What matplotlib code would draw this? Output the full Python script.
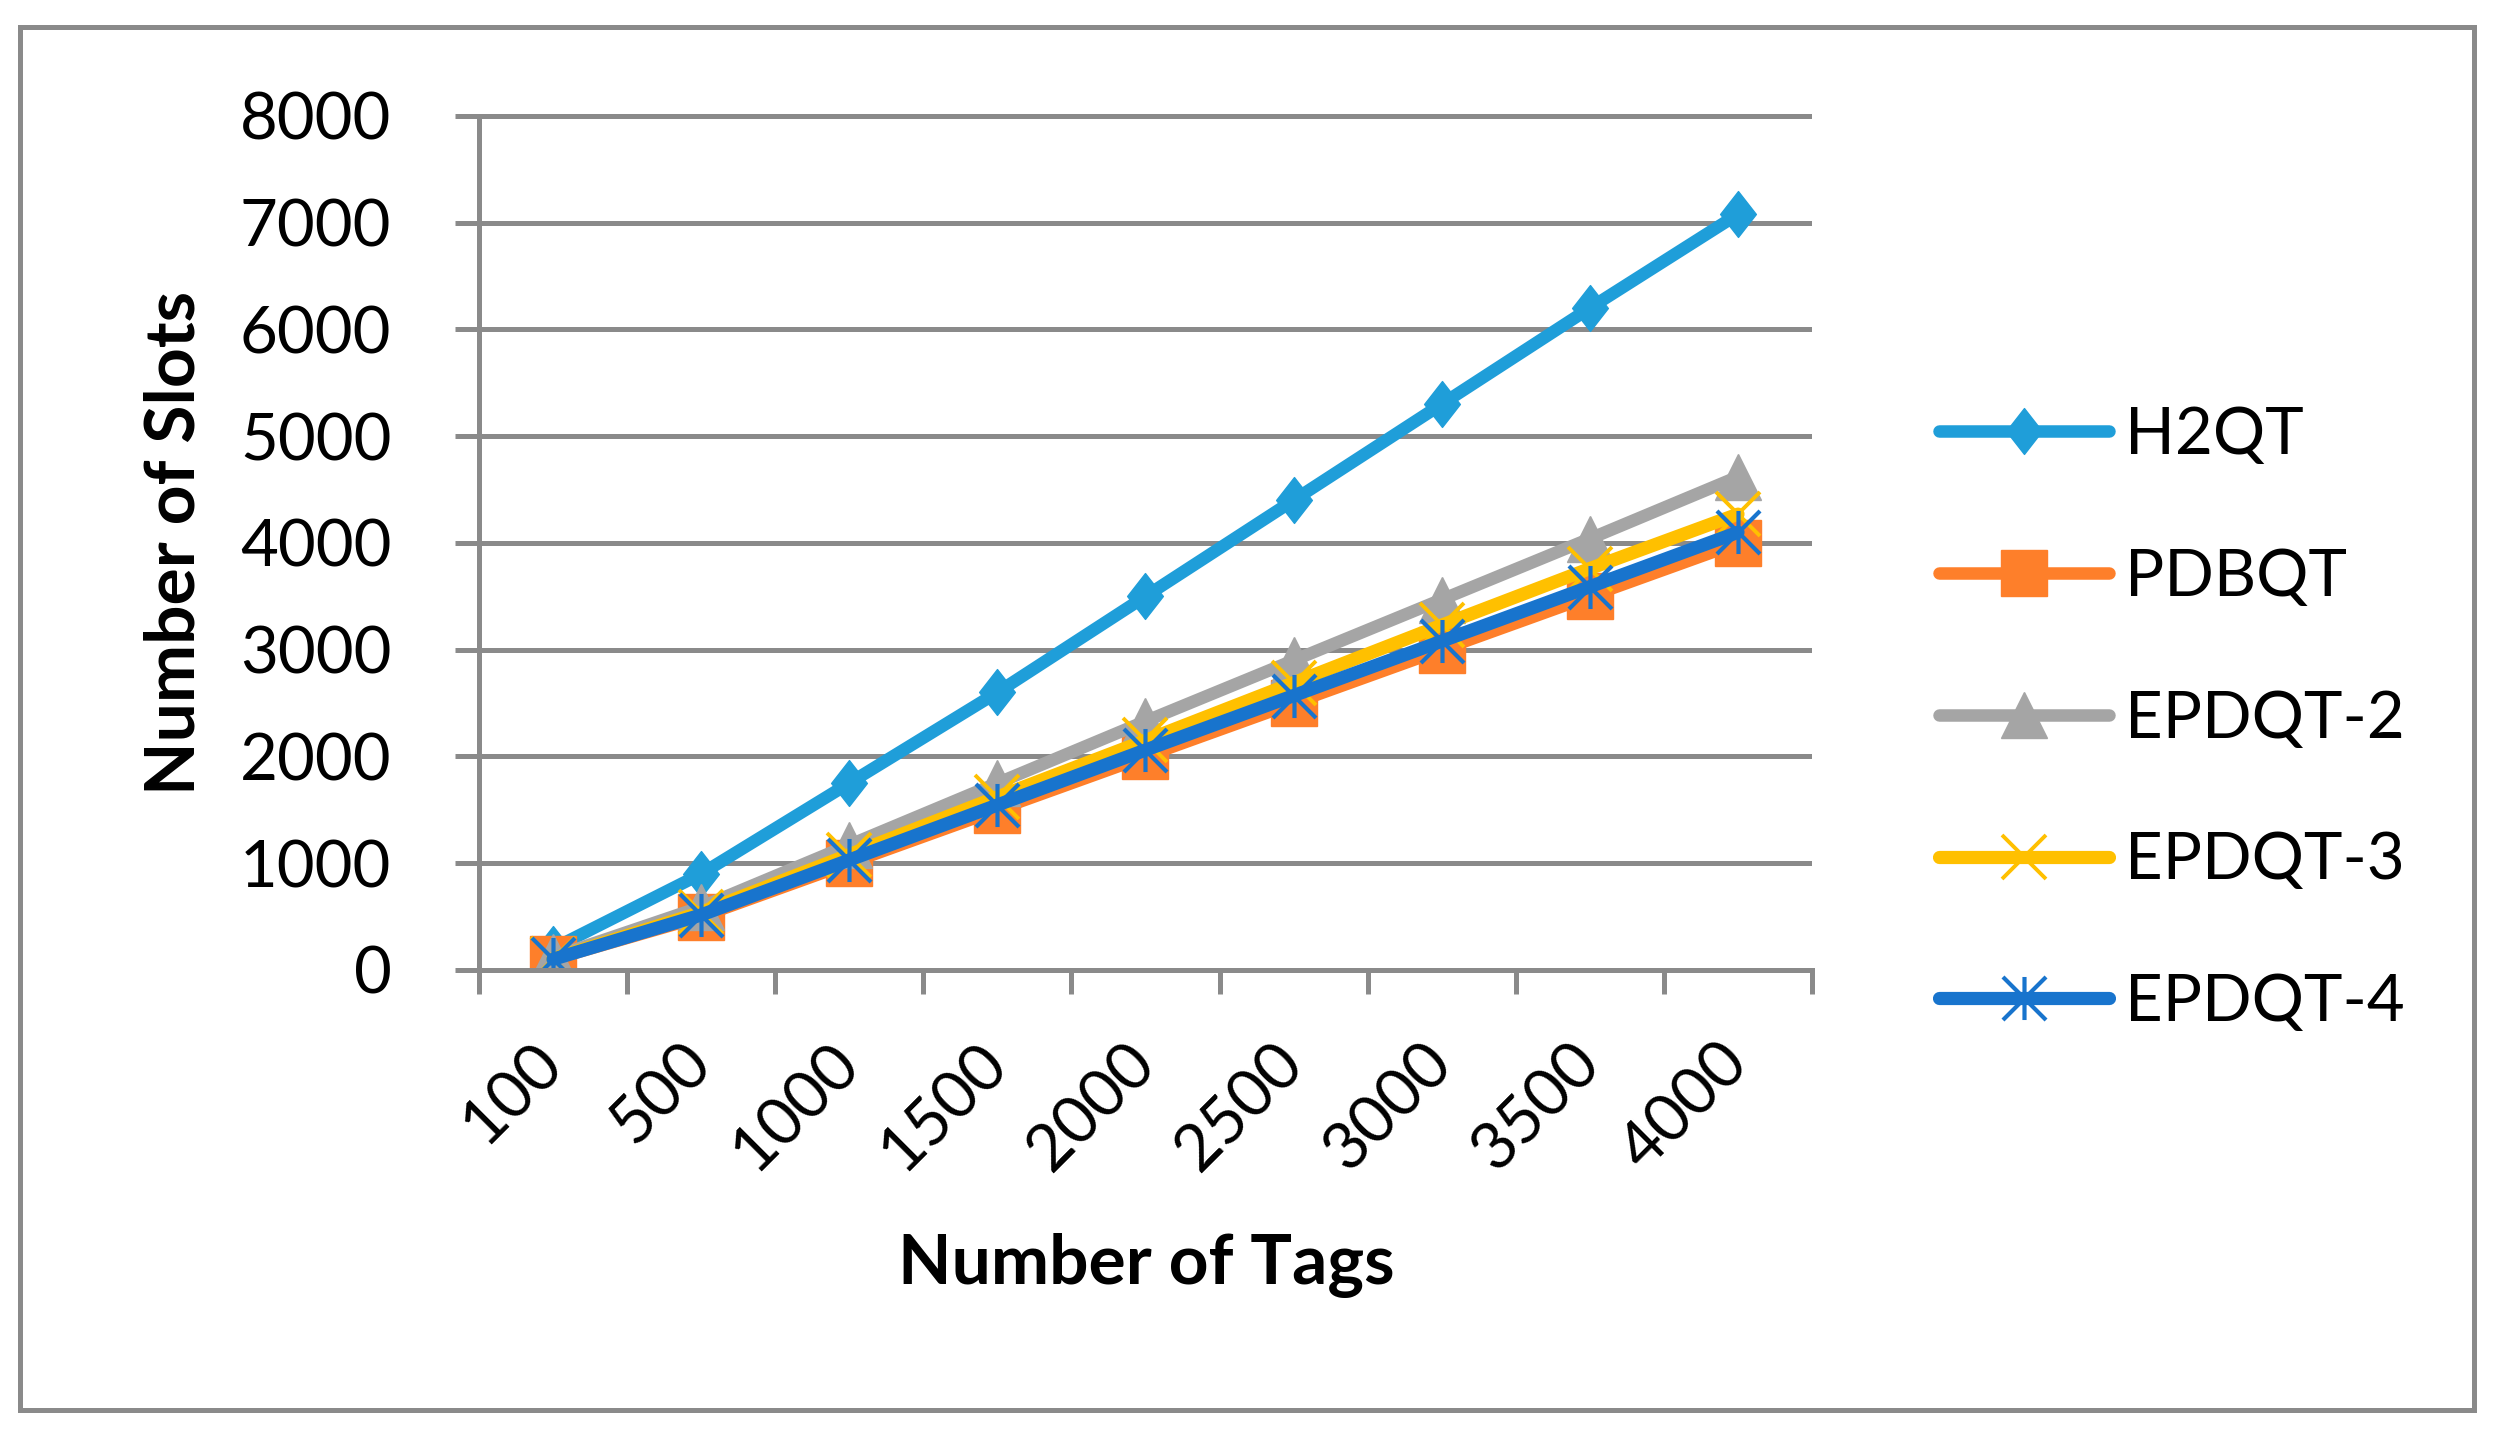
import numpy as np
import matplotlib.pyplot as plt
from matplotlib.path import Path
from matplotlib.patches import Rectangle
from matplotlib.ticker import FixedLocator

plt.rcParams['font.family'] = ['Lato', 'DejaVu Sans']

tags = ['100', '500', '1000', '1500', '2000', '2500', '3000', '3500', '4000']
h2qt = [200, 900, 1750, 2600, 3500, 4400, 5300, 6200, 7080]
pdbqt = [100, 500, 1000, 1500, 2000, 2500, 3000, 3500, 4000]
epdqt2 = [120, 590, 1170, 1750, 2330, 2900, 3470, 4040, 4620]
epdqt3 = [105, 540, 1080, 1620, 2150, 2690, 3230, 3760, 4270]
epdqt4 = [100, 515, 1030, 1545, 2060, 2570, 3080, 3590, 4100]
y_ticks = [0, 1000, 2000, 3000, 4000, 5000, 6000, 7000, 8000]

grey = '#8a8a8a'

# excel style markers
diamond = Path([(0, 1), (0.78, 0), (0, -1), (-0.78, 0), (0, 1)],
               [Path.MOVETO, Path.LINETO, Path.LINETO, Path.LINETO, Path.CLOSEPOLY])
asterisk = Path([(-1, -1), (1, 1), (-1, 1), (1, -1), (0, -1), (0, 1)],
                [Path.MOVETO, Path.LINETO, Path.MOVETO, Path.LINETO, Path.MOVETO, Path.LINETO])

fig = plt.figure(figsize=(24.97, 14.34), dpi=100)
ax = fig.add_axes([0.1918, 0.3236, 0.5339, 0.6030])

x = np.arange(len(tags))
line_kw = dict(solid_capstyle='round', solid_joinstyle='round')
ax.plot(x, h2qt, color='#1f9ed9', lw=9, marker=diamond, ms=33, label='H2QT', **line_kw)
ax.plot(x, pdbqt, color='#fe7f2a', lw=9, marker='s', ms=33, label='PDBQT', **line_kw)
ax.plot(x, epdqt2, color='#a5a5a5', lw=9, marker='^', ms=33, label='EPDQT-2', **line_kw)
ax.plot(x, epdqt3, color='#ffc000', lw=9.5, marker='x', ms=31, mew=2.8, label='EPDQT-3', **line_kw)
ax.plot(x, epdqt4, color='#1874cd', lw=9.5, marker=asterisk, ms=31, mew=3, mfc='none',
        label='EPDQT-4', **line_kw)

ax.set_xlim(-0.5, len(tags) - 0.5)
ax.set_ylim(0, 8100)
ax.set_yticks(y_ticks)
ax.set_yticklabels([str(v) for v in y_ticks], fontsize=47)
ax.yaxis.grid(True, color=grey, lw=3.6)
ax.tick_params(axis='y', length=17, width=3.6, color=grey, pad=46)

ax.set_xticks(x)
ax.set_xticklabels(tags, fontsize=47, rotation=45, ha='right', va='center',
                   rotation_mode='anchor')
ax.tick_params(axis='x', which='major', length=0, pad=60)
ax.xaxis.set_minor_locator(FixedLocator(np.arange(len(tags) + 1) - 0.5))
ax.tick_params(axis='x', which='minor', length=17, width=3.6, color=grey)

for s in ['top', 'right']:
    ax.spines[s].set_visible(False)
for s in ['left', 'bottom']:
    ax.spines[s].set_color(grey)
    ax.spines[s].set_linewidth(3.6)
ax.spines['left'].set_bounds(0, 8000)
ax.set_axisbelow(True)

fig.text(0.0701, 0.6213, 'Number of Slots', rotation=90, fontsize=50,
         fontweight='bold', ha='center', va='center')
fig.text(0.4589, 1 - 1284 / 1434, 'Number of Tags', fontsize=50,
         fontweight='bold', ha='center', va='baseline')

fig.legend(loc='center left', bbox_to_anchor=(0.7765, 0.4986), frameon=False,
           fontsize=47, handlelength=2.6, handletextpad=0.25, labelspacing=1.27,
           borderpad=0, borderaxespad=0)

fig.patches.append(Rectangle((20 / 2497, 1 - 1410 / 1434), 2454 / 2497, 1383 / 1434,
                             transform=fig.transFigure, fill=False,
                             edgecolor=grey, lw=3.6))

fig.savefig('out.png', dpi=100)
